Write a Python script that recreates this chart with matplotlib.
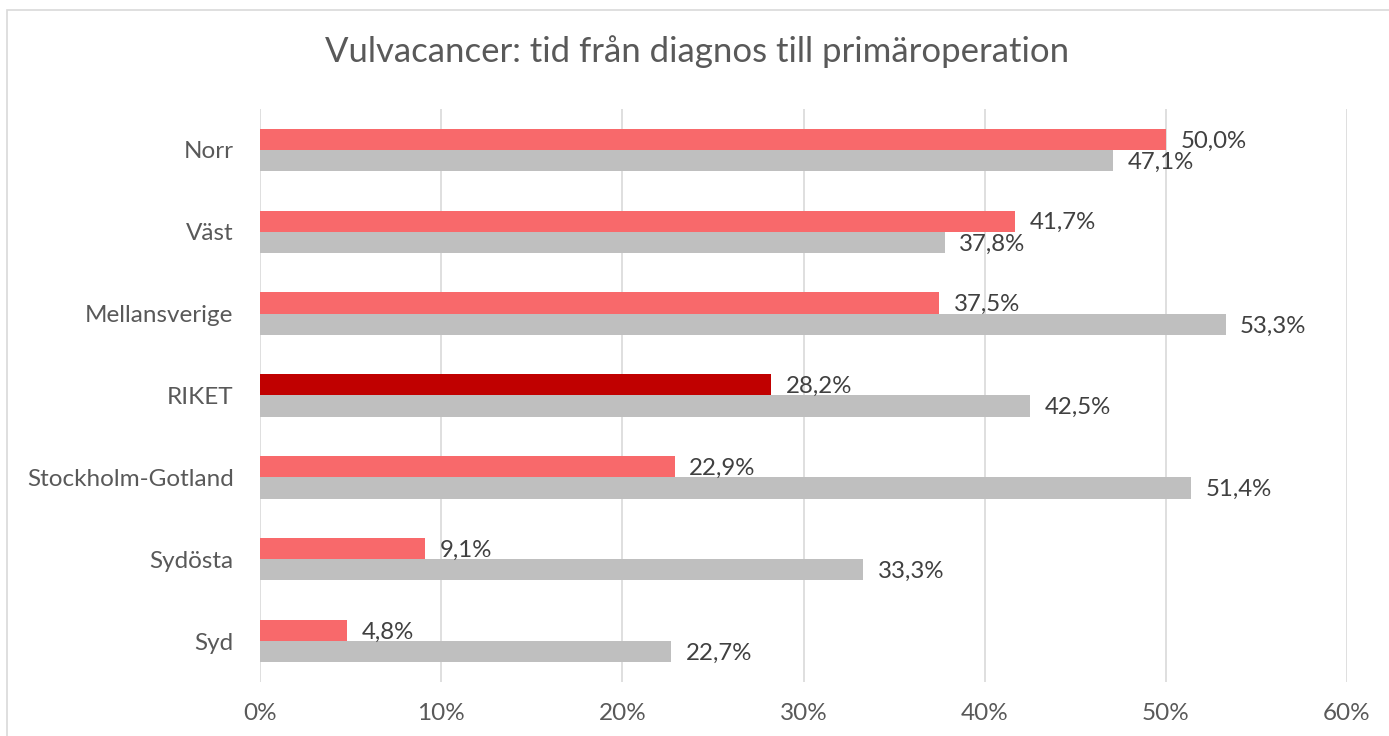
import numpy as np
import matplotlib.pyplot as plt
from matplotlib.patches import Rectangle

# data (top to bottom)
regions = ['Norr', 'Väst', 'Mellansverige', 'RIKET', 'Stockholm-Gotland', 'Sydösta', 'Syd']
red_vals = [50.0, 41.7, 37.5, 28.2, 22.9, 9.1, 4.8]
gray_vals = [47.1, 37.8, 53.3, 42.5, 51.4, 33.3, 22.7]
xticks = [0, 10, 20, 30, 40, 50, 60]

plt.rcParams['font.family'] = ['Lato', 'DejaVu Sans']
txt = '#595959'

fig = plt.figure(figsize=(13.89, 7.36), dpi=100)
ax = fig.add_axes([260 / 1389, 1 - 682 / 736, 1087 / 1389, 573 / 736])

y = np.arange(len(regions))
h = 0.26
red_cols = ['#C00000' if r == 'RIKET' else '#F8696B' for r in regions]
ax.barh(y - h / 2, red_vals, height=h, color=red_cols, zorder=3)
ax.barh(y + h / 2, gray_vals, height=h, color='#BFBFBF', zorder=3)

for i in range(len(regions)):
    ax.text(red_vals[i] + 0.8, y[i] - h / 2 + 0.02, f'{red_vals[i]:.1f}%'.replace('.', ','),
            va='center', ha='left', fontsize=17.3, color='#404040')
    ax.text(gray_vals[i] + 0.8, y[i] + h / 2 + 0.02, f'{gray_vals[i]:.1f}%'.replace('.', ','),
            va='center', ha='left', fontsize=17.3, color='#404040')

ax.set_xlim(0, 60)
ax.set_ylim(len(regions) - 0.5, -0.5)
ax.set_xticks(xticks)
ax.set_xticklabels([f'{t}%' for t in xticks])
ax.set_yticks(y)
ax.set_yticklabels(regions)
ax.tick_params(axis='both', length=0, labelsize=17.5, colors=txt)
ax.tick_params(axis='x', pad=15)
ax.tick_params(axis='y', pad=19)
ax.grid(axis='x', color='#D9D9D9', linewidth=1.2, zorder=0)
for s in ax.spines.values():
    s.set_visible(False)

fig.text(697 / 1389, 1 - 52 / 736, 'Vulvacancer: tid från diagnos till primäroperation',
         ha='center', va='center', fontsize=25, color=txt)

# chart border (cropped at right and bottom in the reference)
fig.patches.append(Rectangle((7 / 1389, -0.1), 1.2, 1 - 10 / 736 + 0.1,
                             transform=fig.transFigure, fill=False,
                             edgecolor='#D9D9D9', linewidth=1.2))

plt.savefig('out.png', dpi=100)
